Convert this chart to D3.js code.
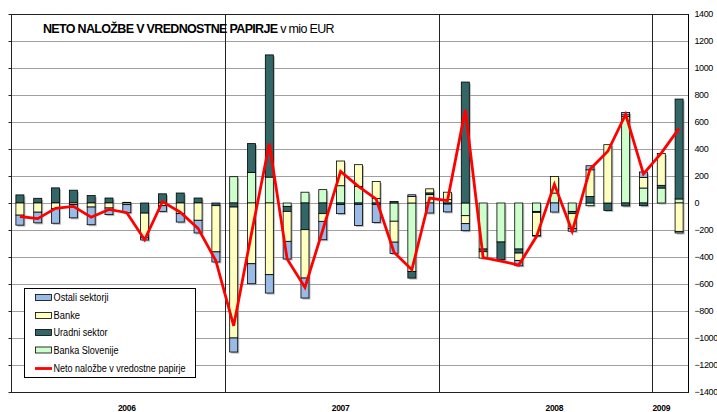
<!DOCTYPE html>
<html><head><meta charset="utf-8">
<script src="https://cdn.jsdelivr.net/npm/d3@7/dist/d3.min.js"></script>
<style>body{margin:0;background:#fff}svg{display:block;font-family:Arial,"Liberation Sans",sans-serif}</style>
</head><body><svg id="c" width="717" height="412"></svg>
<script>
const years = ["2006","2007","2008","2009"];
const yearMonths = [12,12,12,2];
const months = ["jan06","feb06","mar06","apr06","maj06","jun06","jul06","avg06","sep06","okt06","nov06","dec06",
"jan07","feb07","mar07","apr07","maj07","jun07","jul07","avg07","sep07","okt07","nov07","dec07",
"jan08","feb08","mar08","apr08","maj08","jun08","jul08","avg08","sep08","okt08","nov08","dec08",
"jan09","feb09"];
const bankaSlovenije = [0,0,0,0,0,0,0,0,0,0,0,0,
 195,227,192,-25,80,99,128,123,34,-135,-507,62,
 25,-94,-341,-289,-341,-62,74,-62,-20,0,640,111,
 111,30];
const uradniSektor = [60,35,112,95,55,37,5,-75,68,74,37,-20,
 -30,213,905,-37,-198,-79,-12,-10,-10,12,-49,13,
 -8,896,-20,-131,-30,-8,0,-17,49,-55,-22,-20,
 20,740];
const banke = [-90,-68,-40,-12,-30,-37,-12,-182,-20,-79,-128,-342,
 -970,-450,-531,-222,-358,-57,183,161,126,-155,49,30,
 55,-59,-47,0,-54,-170,123,-110,197,432,13,79,
 235,-210];
const ostaliSektorji = [-74,-79,-110,-98,-131,-49,-60,-17,-42,-62,-94,-75,
 -104,-148,-136,-131,-148,-136,-67,-156,-134,-84,12,-74,
 -58,-52,0,0,-40,-5,-67,-20,30,0,18,40,
 0,-12];
const neto = [-100,-116,-40,-25,-105,-47,-72,-272,10,-68,-188,-428,
 -910,-225,440,-415,-625,-200,234,123,28,-365,-494,37,
 18,691,-405,-430,-460,-247,138,-210,250,383,656,215,
 370,553];
const yTicks = d3.range(-1400, 1401, 200);
const seriesNames = ["Banka Slovenije","Uradni sektor","Banke","Ostali sektorji"];
const seriesColors = {"Banka Slovenije":"#ccffcc","Uradni sektor":"#336666","Banke":"#ffffc0","Ostali sektorji":"#99bbe6"};
const lineName = "Neto naložbe v vredostne papirje";

const svg = d3.select("#c");
const L = 11, R = 688, T = 14, B = 392;
const x = d3.scaleBand().domain(d3.range(months.length)).range([L, R]).paddingInner(0.55).paddingOuter(0.275);
const step = x.step();
const y = d3.scaleLinear().domain([-1400, 1400]).range([B, T]);

const rows = months.map((m, i) => ({i, "Banka Slovenije": bankaSlovenije[i], "Uradni sektor": uradniSektor[i], "Banke": banke[i], "Ostali sektorji": ostaliSektorji[i]}));
const stack = d3.stack().keys(seriesNames).offset(d3.stackOffsetDiverging)(rows);

// grid
svg.append("g").selectAll("line").data(yTicks).join("line")
  .attr("x1", L).attr("x2", R).attr("y1", d => Math.round(y(d)) + 0.5).attr("y2", d => Math.round(y(d)) + 0.5)
  .attr("stroke", "#a0a0a0").attr("stroke-width", 1);

// year separators
let acc = 0;
const yearStarts = yearMonths.map(n => { const s = acc; acc += n; return s; });
svg.append("g").selectAll("line").data(yearStarts.slice(1)).join("line")
  .attr("x1", s => Math.round(L + s * step) + 0.5).attr("x2", s => Math.round(L + s * step) + 0.5)
  .attr("y1", T).attr("y2", B).attr("stroke", "#222").attr("stroke-width", 1);

// bar shadows
const ext = rows.map((r, i) => {
  let lo = 0, hi = 0;
  stack.forEach(s => { lo = Math.min(lo, s[i][0], s[i][1]); hi = Math.max(hi, s[i][0], s[i][1]); });
  return {i, lo, hi};
});
svg.append("g").selectAll("rect").data(ext).join("rect")
  .attr("x", d => x(d.i) + 1.5).attr("width", x.bandwidth())
  .attr("y", d => y(d.hi) + 1.5).attr("height", d => y(d.lo) - y(d.hi))
  .attr("fill", "#9a9a9a").attr("opacity", 0.7);

// bars
svg.append("g").selectAll("g").data(stack).join("g")
  .attr("fill", s => seriesColors[s.key])
  .selectAll("rect").data(s => s.map((d, i) => ({d, i}))).join("rect")
  .attr("x", e => x(e.i)).attr("width", x.bandwidth())
  .attr("y", e => y(Math.max(e.d[0], e.d[1])))
  .attr("height", e => Math.abs(y(e.d[0]) - y(e.d[1])))
  .attr("stroke", "#000").attr("stroke-width", 0.8);

// frame
svg.append("rect").attr("x", L + 0.5).attr("y", T + 0.5).attr("width", R - L).attr("height", B - T)
  .attr("fill", "none").attr("stroke", "#222").attr("stroke-width", 1);

// left axis ticks
svg.append("g").attr("transform", `translate(${L + 0.5},0)`)
  .call(d3.axisLeft(y).tickValues(yTicks).tickSize(3).tickFormat(""))
  .call(g => g.select(".domain").remove())
  .selectAll("line").attr("stroke", "#222");

// right axis labels
const ra = svg.append("g").attr("transform", `translate(${R},0)`)
  .call(d3.axisRight(y).tickValues(yTicks).tickSize(0).tickPadding(6.5).tickFormat(d3.format("d")));
ra.select(".domain").attr("stroke", "#000");
ra.selectAll("text").attr("font-size", 9).attr("fill", "#000").attr("letter-spacing", "-0.4")
  .attr("font-family", "Arial, 'Liberation Sans', sans-serif");

// net line
const line = d3.line().x((d, i) => x(i) + x.bandwidth() / 2).y(d => y(d));
svg.append("path").datum(neto).attr("d", line).attr("fill", "none")
  .attr("stroke", "#ff0000").attr("stroke-width", 2.8).attr("stroke-linejoin", "miter");

// year labels
svg.append("g").selectAll("text").data(years).join("text")
  .attr("x", (yr, k) => x(yearStarts[k] + (yearMonths[k] >= 12 ? 6 : 0)) + x.bandwidth() / 2)
  .attr("y", 410.5).attr("text-anchor", "middle")
  .attr("font-size", 8.5).attr("font-weight", "bold").attr("letter-spacing", "-0.3").text(d => d);

// title
const title = svg.append("text").attr("x", 43).attr("y", 32.5).attr("font-size", 12.5).attr("letter-spacing", "-0.67");
title.append("tspan").attr("font-weight", "bold").text("NETO NALOŽBE V VREDNOSTNE PAPIRJE");
title.append("tspan").text(" v mio EUR");

// legend
const lg = svg.append("g");
lg.append("rect").attr("x", 24.5).attr("y", 288.5).attr("width", 171).attr("height", 89)
  .attr("fill", "#fff").attr("stroke", "#000").attr("stroke-width", 1);
const legItems = ["Ostali sektorji","Banke","Uradni sektor","Banka Slovenije"];
const legY = [297.5, 315.5, 332.5, 350];
const legW = [55, 26.5, 54, 65];
legItems.forEach((name, k) => {
  lg.append("rect").attr("x", 35.5).attr("y", legY[k] - 3).attr("width", 16).attr("height", 6)
    .attr("fill", seriesColors[name]).attr("stroke", "#000").attr("stroke-width", 0.8);
  lg.append("text").attr("x", 53.5).attr("y", legY[k] + 3.7).attr("font-size", 10)
    .attr("textLength", legW[k]).attr("lengthAdjust", "spacingAndGlyphs").text(name);
});
lg.append("line").attr("x1", 35).attr("x2", 52).attr("y1", 368.5).attr("y2", 368.5).attr("stroke", "#ff0000").attr("stroke-width", 2.8);
lg.append("text").attr("x", 53.5).attr("y", 372.2).attr("font-size", 10)
  .attr("textLength", 132).attr("lengthAdjust", "spacingAndGlyphs").text(lineName);
</script></body></html>
